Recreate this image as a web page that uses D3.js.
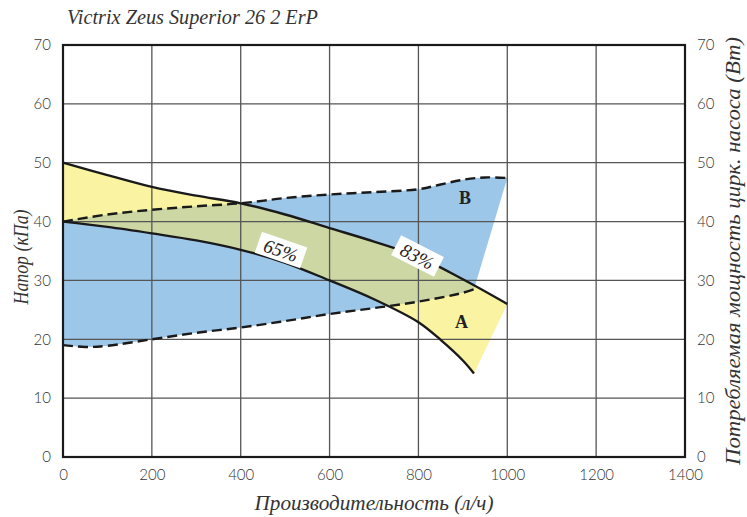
<!DOCTYPE html>
<html><head><meta charset="utf-8">
<script src="https://cdn.jsdelivr.net/npm/d3@7/dist/d3.min.js"></script>
<style>body{margin:0;background:#fff}</style>
</head><body>
<svg id="c" width="747" height="517"></svg>
<script>
const title = "Victrix Zeus Superior 26 2 ErP";
const xLabel = "Производительность (л/ч)";
const yLabel = "Напор (кПа)";
const y2Label = "Потребляемая мощность цирк. насоса (Вт)";
const xTicks = [0,200,400,600,800,1000,1200,1400];
const yTicks = [0,10,20,30,40,50,60,70];

// Curve A (max head) and 65% curve
const upperSolidX = [0,100,200,300,400,500,600,700,800,900,1000];
const upperSolidY = [50,47.9,45.9,44.4,43.1,41.2,38.9,36.6,34.0,30.2,26.0];
const lowerSolidX = [0,100,200,300,400,500,600,700,800,850,900,925];
const lowerSolidY = [40,39.1,38,36.8,35.2,33.0,30.0,26.8,22.9,19.9,16.4,14.2];
// Power curves (dashed)
const upperDashX = [0,100,200,300,400,500,600,700,800,850,900,950,1000];
const upperDashY = [40,41.2,42,42.6,43.1,44,44.6,45,45.5,46.3,47.1,47.5,47.4];
const lowerDashX = [0,50,100,200,300,400,500,600,700,800,900,925];
const lowerDashY = [19,18.7,18.9,20,21.1,22,23.1,24.3,25.3,26.4,27.9,28.5];

const pctLabels = [{t:"65%", x:490, y:35.0, a:19},{t:"83%", x:797, y:34.0, a:27}];
const zoneLabels = [{t:"A", x:897, y:22},{t:"B", x:905, y:43}];

const W=747,H=517, L=63, R=685, T=45, B=457;
const x = d3.scaleLinear().domain([0,1400]).range([L,R]);
const y = d3.scaleLinear().domain([0,70]).range([B,T]);
const svg = d3.select("#c");
const zip = (xs,ys)=>xs.map((v,i)=>[v,ys[i]]);
const line = d3.line().x(d=>x(d[0])).y(d=>y(d[1])).curve(d3.curveCatmullRom.alpha(0.5));

const uS = zip(upperSolidX,upperSolidY), lS = zip(lowerSolidX,lowerSolidY);
const uD = zip(upperDashX,upperDashY), lD = zip(lowerDashX,lowerDashY);
const poly = (a,b)=> line(a) + line(b.slice().reverse()).replace(/^M/,"L") + "Z";

const yellowPath = poly(uS,lS), bluePath = poly(uD,lD);
const defs = svg.append("defs");
defs.append("clipPath").attr("id","bc").append("path").attr("d",bluePath);

svg.append("path").attr("d",bluePath).attr("fill","#9dc7e9");
svg.append("path").attr("d",yellowPath).attr("fill","#f9f3a2");
svg.append("path").attr("d",yellowPath).attr("fill","#cdd7a3").attr("clip-path","url(#bc)");

// grid
const g = svg.append("g");
xTicks.slice(1,-1).forEach(v=>g.append("line").attr("x1",x(v)).attr("x2",x(v)).attr("y1",T).attr("y2",B).attr("stroke","#555").attr("stroke-width",1.3));
yTicks.slice(1,-1).forEach(v=>g.append("line").attr("x1",L).attr("x2",R).attr("y1",y(v)).attr("y2",y(v)).attr("stroke","#555").attr("stroke-width",1.3));

// curves
svg.append("path").attr("d",line(uS)).attr("fill","none").attr("stroke","#1a1a1a").attr("stroke-width",2.4);
svg.append("path").attr("d",line(lS)).attr("fill","none").attr("stroke","#1a1a1a").attr("stroke-width",2.4);
svg.append("path").attr("d",line(uD)).attr("fill","none").attr("stroke","#1a1a1a").attr("stroke-width",2.4).attr("stroke-dasharray","10,5");
svg.append("path").attr("d",line(lD)).attr("fill","none").attr("stroke","#1a1a1a").attr("stroke-width",2.4).attr("stroke-dasharray","10,5");

// frame
svg.append("rect").attr("x",L).attr("y",T).attr("width",R-L).attr("height",B-T).attr("fill","none").attr("stroke","#1a1a1a").attr("stroke-width",2.2);

// axes
const tickFont = "Lato, 'Open Sans', sans-serif";
const ax = svg.append("g").attr("transform",`translate(0,${B})`).call(d3.axisBottom(x).tickValues(xTicks).tickSize(0).tickPadding(12).tickFormat(d3.format("d")));
const ayl = svg.append("g").attr("transform",`translate(${L},0)`).call(d3.axisLeft(y).tickValues(yTicks).tickSize(0).tickPadding(12));
const ayr = svg.append("g").attr("transform",`translate(${R},0)`).call(d3.axisRight(y).tickValues(yTicks).tickSize(0).tickPadding(12));
[ax,ayl,ayr].forEach(a=>{a.select(".domain").remove(); a.selectAll("text").attr("font-family",tickFont).attr("font-size",15).attr("fill","#333").attr("font-weight",300);});

// labels
const serif = "'Liberation Serif', 'DejaVu Serif', serif";
const lbl = (t,tr,len,anchor)=>svg.append("text").attr("transform",tr).attr("text-anchor",anchor).text(t)
  .attr("font-family",serif).attr("font-style","italic").attr("font-size",20).attr("fill","#333")
  .attr("textLength",len).attr("lengthAdjust","spacingAndGlyphs");
lbl(title,"translate(67,24)",251,"start");
lbl(xLabel,`translate(374,510)`,239,"middle");
lbl(yLabel,`translate(28,257) rotate(-90)`,95,"middle");
lbl(y2Label,`translate(740,251) rotate(-90)`,428,"middle");

pctLabels.forEach(p=>{
  const gg = svg.append("g").attr("transform",`translate(${x(p.x)},${y(p.y)}) rotate(${p.a})`);
  gg.append("rect").attr("x",-24).attr("y",-12).attr("width",48).attr("height",22).attr("fill","#fff");
  gg.append("text").attr("text-anchor","middle").attr("y",6).text(p.t).attr("font-family",serif).attr("font-style","italic").attr("font-size",19).attr("fill","#222");
});
zoneLabels.forEach(p=>{
  svg.append("text").attr("x",x(p.x)).attr("y",y(p.y)).attr("text-anchor","middle").text(p.t).attr("font-family",serif).attr("font-weight","bold").attr("font-size",18).attr("fill","#222");
});
</script>
</body></html>
